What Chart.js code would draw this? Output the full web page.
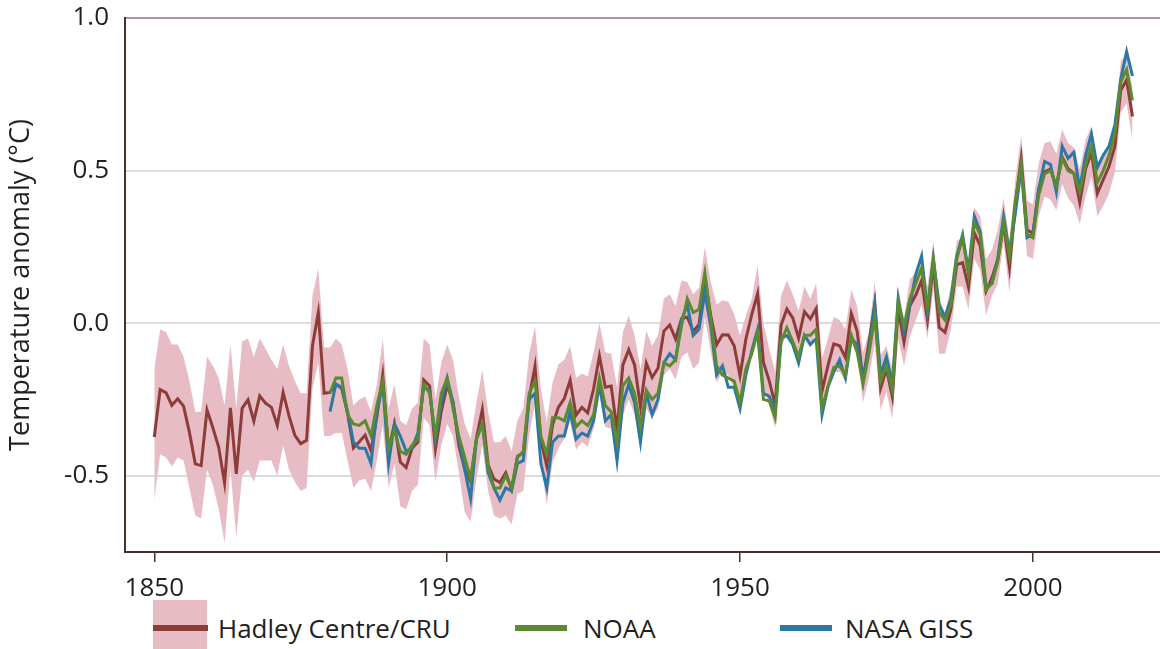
<!DOCTYPE html>
<html>
<head>
<meta charset="utf-8">
<script src="https://cdn.jsdelivr.net/npm/chart.js@4.4.0/dist/chart.umd.min.js"></script>
<style>
  body { margin: 0; background: #fff; }
  #wrap { position: relative; width: 1160px; height: 649px; font-family: "Open Sans", sans-serif; color: #231f20; overflow: hidden; }
  #chartBox { position: absolute; left: 0; top: 0; width: 1160px; height: 600px; }
  .swatch { position: absolute; }
  .label { position: absolute; top: 610px; line-height: 36px; font-size: 26px; white-space: nowrap; }
</style>
</head>
<body>
<div id="wrap">
  <div id="chartBox"><canvas id="myChart" width="1160" height="600"></canvas></div>
  <div class="swatch" style="left:153px; top:600px; width:54px; height:49px; background:#e7bcc5;"></div>
  <div class="swatch" style="left:153px; top:625px; width:55px; height:6px; background:#8d3d39;"></div>
  <div class="label" style="left:218px;">Hadley Centre/CRU</div>
  <div class="swatch" style="left:515px; top:625px; width:52px; height:6px; background:#5b8a30;"></div>
  <div class="label" style="left:583px;">NOAA</div>
  <div class="swatch" style="left:780px; top:625px; width:52px; height:6px; background:#2b78a5;"></div>
  <div class="label" style="left:845px;">NASA GISS</div>
</div>
<script>
// annual anomalies, one value per year
const HADLEY_START = 1850;
const hadley = [
  -0.373, -0.218, -0.228, -0.269, -0.248, -0.272, -0.358, -0.461, -0.467, -0.284,
  -0.343, -0.407, -0.524, -0.278, -0.494, -0.279, -0.251, -0.321, -0.238, -0.262,
  -0.276, -0.335, -0.227, -0.304, -0.368, -0.395, -0.384, -0.075, 0.035, -0.230,
  -0.227, -0.200, -0.213, -0.296, -0.409, -0.389, -0.367, -0.418, -0.307, -0.171,
  -0.416, -0.330, -0.455, -0.473, -0.410, -0.390, -0.186, -0.206, -0.412, -0.289,
  -0.203, -0.259, -0.402, -0.479, -0.520, -0.377, -0.283, -0.465, -0.511, -0.522,
  -0.490, -0.544, -0.437, -0.424, -0.244, -0.141, -0.383, -0.468, -0.333, -0.275,
  -0.247, -0.187, -0.302, -0.276, -0.294, -0.215, -0.108, -0.210, -0.206, -0.350,
  -0.137, -0.087, -0.137, -0.273, -0.131, -0.178, -0.147, -0.026, -0.006, -0.052,
  0.014, 0.020, -0.027, -0.004, 0.150, 0.025, -0.071, -0.038, -0.039, -0.074,
  -0.173, -0.052, 0.028, 0.097, -0.129, -0.190, -0.267, -0.007, 0.046, 0.017,
  -0.049, 0.038, 0.014, 0.048, -0.223, -0.140, -0.068, -0.074, -0.113, 0.032,
  -0.027, -0.186, -0.065, 0.062, -0.214, -0.149, -0.241, 0.047, -0.062, 0.057,
  0.092, 0.140, 0.011, 0.194, -0.014, -0.030, 0.045, 0.192, 0.198, 0.118,
  0.296, 0.254, 0.105, 0.148, 0.208, 0.325, 0.183, 0.390, 0.539, 0.306,
  0.294, 0.441, 0.496, 0.505, 0.447, 0.545, 0.506, 0.491, 0.395, 0.506,
  0.560, 0.425, 0.470, 0.514, 0.579, 0.763, 0.797, 0.677
];
const hadleyUpper = [
  -0.15, -0.02, -0.03, -0.07, -0.07, -0.11, -0.19, -0.29, -0.29, -0.11,
  -0.14, -0.18, -0.27, -0.07, -0.28, -0.06, -0.05, -0.11, -0.05, -0.085,
  -0.12, -0.15, -0.07, -0.14, -0.19, -0.23, -0.23, 0.09, 0.18, -0.08,
  -0.08, -0.05, -0.07, -0.15, -0.27, -0.25, -0.24, -0.29, -0.20, -0.05,
  -0.28, -0.20, -0.32, -0.335, -0.28, -0.26, -0.05, -0.07, -0.25, -0.13,
  -0.07, -0.12, -0.24, -0.33, -0.38, -0.26, -0.155, -0.29, -0.39, -0.39,
  -0.37, -0.42, -0.32, -0.28, -0.10, -0.01, -0.215, -0.325, -0.195, -0.135,
  -0.12, -0.075, -0.18, -0.165, -0.175, -0.095, 0.0, -0.095, -0.10, -0.21,
  -0.03, 0.025, -0.04, -0.15, -0.025, -0.075, -0.04, 0.08, 0.095, 0.055,
  0.14, 0.135, 0.095, 0.115, 0.25, 0.135, 0.06, 0.075, 0.07, 0.03,
  -0.04, 0.025, 0.08, 0.19, 0.0, -0.085, -0.16, 0.09, 0.14, 0.095,
  0.04, 0.12, 0.08, 0.13, -0.115, -0.05, 0.02, 0.01, -0.02, 0.11,
  0.055, -0.095, -0.03, 0.14, -0.105, -0.075, -0.15, 0.12, 0.015, 0.145,
  0.165, 0.20, 0.12, 0.27, 0.08, 0.035, 0.12, 0.27, 0.28, 0.20,
  0.38, 0.35, 0.21, 0.24, 0.305, 0.41, 0.27, 0.47, 0.615, 0.40,
  0.39, 0.525, 0.59, 0.595, 0.555, 0.635, 0.59, 0.575, 0.505, 0.60,
  0.645, 0.525, 0.545, 0.58, 0.655, 0.86, 0.88, 0.77
];
const hadleyLower = [
  -0.58, -0.43, -0.44, -0.47, -0.44, -0.45, -0.54, -0.63, -0.64, -0.48,
  -0.53, -0.61, -0.72, -0.48, -0.70, -0.50, -0.48, -0.52, -0.45, -0.45,
  -0.45, -0.50, -0.40, -0.48, -0.52, -0.55, -0.54, -0.215, -0.13, -0.37,
  -0.37, -0.36, -0.36, -0.45, -0.54, -0.515, -0.51, -0.55, -0.45, -0.335,
  -0.54, -0.46, -0.60, -0.61, -0.55, -0.53, -0.31, -0.335, -0.52, -0.40,
  -0.33, -0.37, -0.49, -0.62, -0.65, -0.51, -0.40, -0.55, -0.63, -0.64,
  -0.63, -0.66, -0.56, -0.55, -0.37, -0.26, -0.455, -0.595, -0.455, -0.41,
  -0.38, -0.325, -0.415, -0.39, -0.405, -0.345, -0.235, -0.34, -0.345, -0.455,
  -0.30, -0.25, -0.30, -0.41, -0.28, -0.31, -0.28, -0.17, -0.15, -0.185,
  -0.11, -0.095, -0.15, -0.13, 0.02, -0.095, -0.195, -0.16, -0.17, -0.215,
  -0.26, -0.14, -0.075, 0.0, -0.205, -0.27, -0.345, -0.085, -0.03, -0.065,
  -0.115, -0.04, -0.075, -0.03, -0.29, -0.215, -0.16, -0.16, -0.19, -0.065,
  -0.105, -0.26, -0.18, -0.065, -0.285, -0.225, -0.315, -0.05, -0.14, -0.045,
  0.01, 0.06, -0.05, 0.11, -0.10, -0.10, -0.02, 0.12, 0.12, 0.045,
  0.21, 0.175, 0.025, 0.09, 0.13, 0.265, 0.10, 0.33, 0.47, 0.22,
  0.21, 0.35, 0.415, 0.405, 0.37, 0.455, 0.41, 0.385, 0.325, 0.415,
  0.48, 0.35, 0.385, 0.425, 0.495, 0.69, 0.72, 0.60
];

const NOAA_START = 1880;
const noaa = [
  -0.23, -0.18, -0.18, -0.30, -0.33, -0.335, -0.32, -0.37, -0.27, -0.19,
  -0.41, -0.35, -0.42, -0.43, -0.40, -0.38, -0.20, -0.23, -0.37, -0.23,
  -0.18, -0.28, -0.37, -0.44, -0.51, -0.38, -0.33, -0.47, -0.54, -0.54,
  -0.50, -0.54, -0.44, -0.42, -0.23, -0.19, -0.37, -0.43, -0.31, -0.31,
  -0.32, -0.26, -0.34, -0.32, -0.335, -0.30, -0.18, -0.27, -0.29, -0.39,
  -0.205, -0.18, -0.23, -0.34, -0.22, -0.25, -0.23, -0.13, -0.14, -0.12,
  -0.01, 0.08, 0.035, 0.045, 0.165, 0.015, -0.14, -0.17, -0.18, -0.19,
  -0.26, -0.15, -0.10, -0.03, -0.25, -0.255, -0.31, -0.06, -0.015, -0.06,
  -0.11, -0.04, -0.04, -0.02, -0.28, -0.21, -0.145, -0.14, -0.17, -0.04,
  -0.095, -0.20, -0.10, 0.02, -0.19, -0.14, -0.22, 0.07, -0.01, 0.08,
  0.13, 0.18, 0.05, 0.21, 0.035, 0.01, 0.06, 0.21, 0.28, 0.16,
  0.33, 0.29, 0.11, 0.13, 0.20, 0.33, 0.22, 0.40, 0.52, 0.29,
  0.28, 0.42, 0.49, 0.50, 0.45, 0.54, 0.50, 0.49, 0.43, 0.52,
  0.58, 0.46, 0.50, 0.55, 0.62, 0.79, 0.83, 0.73
];

const GISS_START = 1880;
const giss = [
  -0.29, -0.20, -0.21, -0.29, -0.39, -0.41, -0.41, -0.46, -0.29, -0.20,
  -0.46, -0.33, -0.37, -0.42, -0.41, -0.36, -0.21, -0.22, -0.38, -0.26,
  -0.18, -0.26, -0.38, -0.48, -0.575, -0.38, -0.33, -0.49, -0.54, -0.58,
  -0.54, -0.55, -0.46, -0.45, -0.25, -0.23, -0.46, -0.54, -0.39, -0.37,
  -0.37, -0.29, -0.38, -0.36, -0.37, -0.32, -0.20, -0.32, -0.30, -0.45,
  -0.26, -0.20, -0.26, -0.39, -0.23, -0.30, -0.25, -0.13, -0.10, -0.12,
  0.01, 0.06, -0.04, -0.02, 0.10, -0.01, -0.17, -0.14, -0.21, -0.21,
  -0.28, -0.17, -0.09, -0.02, -0.23, -0.24, -0.29, -0.05, -0.04, -0.07,
  -0.13, -0.04, -0.07, -0.05, -0.30, -0.21, -0.16, -0.12, -0.18, -0.05,
  -0.07, -0.18, -0.09, 0.06, -0.17, -0.11, -0.20, 0.08, -0.03, 0.06,
  0.16, 0.22, 0.04, 0.21, 0.06, 0.02, 0.08, 0.22, 0.29, 0.17,
  0.35, 0.30, 0.12, 0.13, 0.21, 0.35, 0.23, 0.36, 0.51, 0.28,
  0.29, 0.44, 0.53, 0.52, 0.43, 0.58, 0.54, 0.56, 0.44, 0.55,
  0.62, 0.51, 0.55, 0.58, 0.65, 0.80, 0.89, 0.81
];

const xTicks = [1850, 1900, 1950, 2000];
const yTicks = [-0.5, 0.0, 0.5, 1.0];

function toPoints(start, values) {
  return values.map((v, i) => ({ x: start + i, y: v }));
}

const axisColor = "#4b2f2b";
const tickFont = { family: "Open Sans", size: 26 };

const ctx = document.getElementById("myChart").getContext("2d");
const chart = new Chart(ctx, {
  type: "line",
  data: {
    datasets: [
      {
        label: "lower",
        data: toPoints(HADLEY_START, hadleyLower),
        borderWidth: 0,
        borderColor: "rgba(0,0,0,0)",
        fill: false,
        order: 10,
      },
      {
        label: "upper",
        data: toPoints(HADLEY_START, hadleyUpper),
        borderWidth: 0,
        borderColor: "rgba(0,0,0,0)",
        backgroundColor: "#e7bcc5",
        fill: 0,
        order: 9,
      },
      {
        label: "Hadley Centre/CRU",
        data: toPoints(HADLEY_START, hadley),
        borderColor: "#8d3d39",
        borderWidth: 3,
        fill: false,
        order: 2,
      },
      {
        label: "NASA GISS",
        data: toPoints(GISS_START, giss),
        borderColor: "#2b78a5",
        borderWidth: 3,
        fill: false,
        order: 1,
      },
      {
        label: "NOAA",
        data: toPoints(NOAA_START, noaa),
        borderColor: "#5b8a30",
        borderWidth: 3,
        fill: false,
        order: 0,
      },
    ],
  },
  options: {
    responsive: false,
    animation: false,
    layout: { padding: { top: 18, left: 0, right: 0, bottom: 0 } },
    elements: { point: { radius: 0 }, line: { tension: 0 } },
    plugins: {
      legend: { display: false },
      tooltip: { enabled: false },
    },
    scales: {
      x: {
        type: "linear",
        min: 1845,
        max: 2021.7,
        afterBuildTicks: (s) => {
          s.ticks = xTicks.map((v) => ({ value: v }));
        },
        afterFit: (s) => {
          s.height = 48;
        },
        border: { color: axisColor, width: 2 },
        grid: {
          drawOnChartArea: false,
          drawTicks: true,
          tickLength: 10,
          color: axisColor,
          lineWidth: 1.5,
        },
        ticks: {
          font: tickFont,
          color: "#231f20",
          padding: 11,
          maxRotation: 0,
          callback: (v) => String(v),
        },
      },
      y: {
        min: -0.75,
        max: 1.0,
        afterBuildTicks: (s) => {
          s.ticks = yTicks.map((v) => ({ value: v }));
        },
        afterFit: (s) => {
          s.width = 125;
          s.paddingTop = 0;
          s.paddingBottom = 0;
        },
        border: { color: axisColor, width: 2 },
        grid: {
          drawTicks: false,
          lineWidth: 2,
          color: (c) => (c.tick && c.tick.value === 1 ? "#a9999a" : "#dcdcdc"),
        },
        ticks: {
          font: tickFont,
          color: "#231f20",
          padding: 16,
          callback: (v) => v.toFixed(1),
        },
        title: {
          display: true,
          text: "Temperature anomaly (°C)",
          color: "#231f20",
          font: { family: "Open Sans", size: 27 },
          padding: { top: 5, bottom: 0 },
        },
      },
    },
  },
});
</script>
</body>
</html>
